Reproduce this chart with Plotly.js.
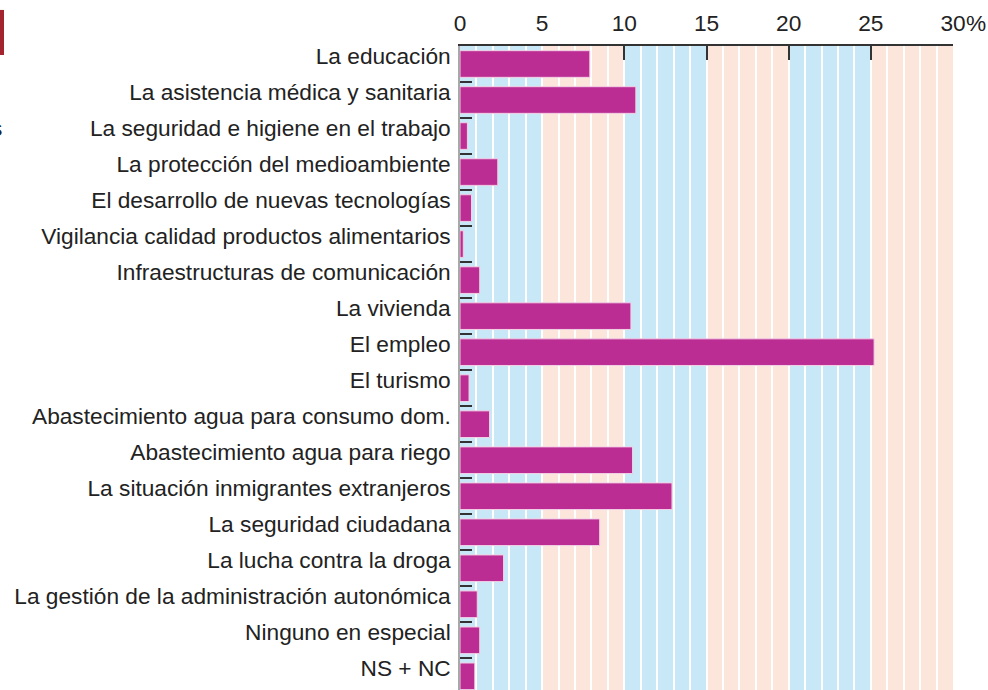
<!DOCTYPE html>
<html>
<head>
<meta charset="utf-8">
<script src="https://cdn.plot.ly/plotly-3.0.1.min.js"></script>
<style>
  html, body { margin: 0; padding: 0; background: #ffffff; }
  #chart { width: 988px; height: 690px; }
</style>
</head>
<body>
<div id="chart"></div>
<script>
const categories = [
  "La educación",
  "La asistencia médica y sanitaria",
  "La seguridad e higiene en el trabajo",
  "La protección del medioambiente",
  "El desarrollo de nuevas tecnologías",
  "Vigilancia calidad productos alimentarios",
  "Infraestructuras de comunicación",
  "La vivienda",
  "El empleo",
  "El turismo",
  "Abastecimiento agua para consumo dom.",
  "Abastecimiento agua para riego",
  "La situación inmigrantes extranjeros",
  "La seguridad ciudadana",
  "La lucha contra la droga",
  "La gestión de la administración autonómica",
  "Ninguno en especial",
  "NS + NC"
];
const values = [7.9, 10.7, 0.45, 2.3, 0.7, 0.2, 1.2, 10.4, 25.2, 0.55, 1.8, 10.5, 12.9, 8.5, 2.65, 1.05, 1.2, 0.9];
const tickVals = [0, 5, 10, 15, 20, 25, 30];
const tickText = ["0", "5", "10", "15", "20", "25", "30"];
const markedTicks = [10, 15, 20, 25, 30];

const FONT = "Liberation Sans, Arial, Helvetica, sans-serif";
const FS = 22.7;
const TXT = "#222222";
const bandColors = ["#c8e8f8", "#fce6dc"];

const shapes = [];
for (let i = 0; i < tickVals.length - 1; i++) {
  shapes.push({
    type: "rect", xref: "x", yref: "paper",
    x0: tickVals[i], x1: tickVals[i + 1], y0: 0, y1: 1,
    fillcolor: bandColors[i % 2], line: { width: 0 }, layer: "below"
  });
}
// clipped decoration at top-left of the original page
shapes.push({
  type: "rect", xref: "paper", yref: "paper",
  x0: -0.935, x1: -0.925, y0: 0.986, y1: 1.056,
  fillcolor: "#a3242f", line: { width: 0 }
});

const traces = [
  {
    type: "bar", orientation: "h",
    x: values, y: categories,
    width: 0.74,
    marker: { color: "#bb2d92", line: { color: "#f2d0e6", width: 1 } },
    hoverinfo: "x+y"
  },
  {
    type: "scatter", mode: "markers",
    x: [markedTicks[0]], y: [categories[0]],
    xaxis: "x2", marker: { opacity: 0 }, hoverinfo: "skip", showlegend: false
  }
];

const layout = {
  width: 988, height: 690,
  margin: { l: 460, r: 35, t: 46, b: 0 },
  paper_bgcolor: "#ffffff", plot_bgcolor: "#ffffff",
  showlegend: false,
  font: { family: FONT, size: FS, color: TXT },
  xaxis: {
    side: "top", range: [0, 30],
    tickvals: tickVals, ticktext: tickText,
    ticks: "", showline: true, linecolor: "#333333", linewidth: 1.5,
    showgrid: true, gridcolor: "#ffffff", gridwidth: 1.5,
    minor: { dtick: 1, showgrid: true, gridcolor: "#ffffff", gridwidth: 1.5 },
    zeroline: false, fixedrange: true,
    ticklabelstandoff: 4,
    tickfont: { family: FONT, size: FS, color: TXT }
  },
  xaxis2: {
    overlaying: "x", matches: "x", side: "top", anchor: "y",
    tickvals: markedTicks, ticktext: markedTicks.map(() => ""),
    ticks: "inside", ticklen: 14, tickwidth: 1.5, tickcolor: "#333333",
    showgrid: false, showline: false, zeroline: false
  },
  yaxis: {
    type: "category",
    range: [17.38, -0.5],
    showline: true, linecolor: "#a8a8a8", linewidth: 1.5,
    ticks: "inside", tickson: "boundaries", ticklen: 12, tickwidth: 1.5, tickcolor: "#333333",
    showgrid: false, zeroline: false, fixedrange: true,
    ticklabelshift: 8,
    ticklabelstandoff: 3,
    tickfont: { family: FONT, size: FS, color: TXT }
  },
  annotations: [
    {
      xref: "x", yref: "paper", x: 30, y: 1, yanchor: "middle", xanchor: "left",
      xshift: 11, yshift: 23, text: "%", showarrow: false,
      font: { family: FONT, size: FS, color: TXT }
    },
    {
      xref: "paper", yref: "y", x: -0.925, y: categories[2], xanchor: "right", yshift: 8,
      text: "s", showarrow: false,
      font: { family: FONT, size: FS, color: TXT }
    }
  ],
  shapes: shapes
};

Plotly.newPlot("chart", traces, layout, { displayModeBar: false });
</script>
</body>
</html>
